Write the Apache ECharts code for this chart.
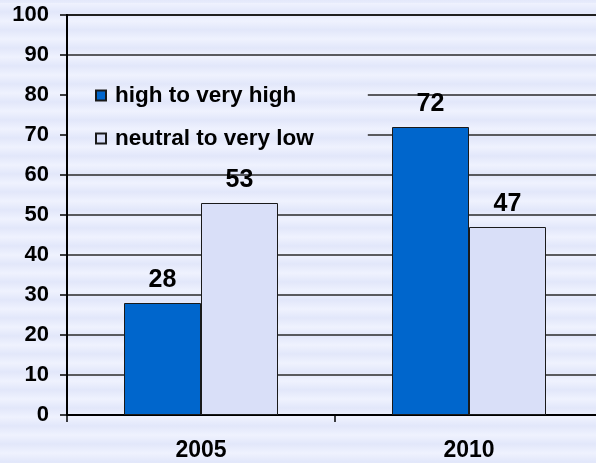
<!DOCTYPE html>
<html>
<head>
<meta charset="utf-8">
<script src="https://cdn.jsdelivr.net/npm/echarts@6/dist/echarts.min.js"></script>
<style>
  html, body { margin: 0; padding: 0; }
  #chart {
    width: 596px;
    height: 463px;
    background: repeating-linear-gradient(to bottom, #eff2fe 0px, #e2e7fa 9px, #eff2fe 18px);
    background-position: 0 3px;
  }
</style>
</head>
<body>
<div id="chart"></div>
<script>
// data
const years = ['2005', '2010']
const highValues = [28, 72]
const lowValues = [53, 47]
const seriesNames = ['high to very high', 'neutral to very low']

// stripe pattern so the legend box blends into the striped page
function stripeCanvas () {
  const c = document.createElement('canvas')
  c.width = 4
  c.height = 18
  const ctx = c.getContext('2d')
  const g = ctx.createLinearGradient(0, 0, 0, 18)
  g.addColorStop(0, '#eff2fe')
  g.addColorStop(0.5, '#e2e7fa')
  g.addColorStop(1, '#eff2fe')
  ctx.fillStyle = g
  ctx.fillRect(0, 0, 4, 18)
  return c
}

const legendTop = 74
const legendPad = [10, 54, 10, 27]
// pattern origin sits at the legend content corner, shift it back to page phase
const contentTop = legendTop + legendPad[0]
const phase = ((3 - contentTop) % 18 + 18) % 18

const chart = echarts.init(document.getElementById('chart'))
const font = 'Arial, "Liberation Sans", sans-serif'

const option = {
  backgroundColor: 'transparent',
  animation: false,
  grid: {
    left: 67,
    width: 536,
    top: 15,
    bottom: 48,
    outerBoundsMode: 'none',
    show: true,
    borderColor: '#000',
    borderWidth: 2,
    backgroundColor: 'transparent'
  },
  legend: {
    orient: 'vertical',
    left: 68,
    top: legendTop,
    padding: legendPad,
    itemWidth: 10,
    itemHeight: 10,
    itemGap: 20,
    icon: 'rect',
    backgroundColor: { image: stripeCanvas(), repeat: 'repeat', x: 0, y: phase },
    textStyle: {
      fontFamily: font,
      fontWeight: 'bold',
      fontSize: 22.5,
      color: '#000',
      padding: [0, 0, 0, 4]
    },
    data: seriesNames
  },
  xAxis: {
    type: 'category',
    data: years,
    axisLine: { lineStyle: { color: '#000', width: 2 } },
    axisTick: { show: true, length: 7, lineStyle: { color: '#000', width: 1.5 } },
    axisLabel: {
      margin: 24,
      fontFamily: font,
      fontWeight: 'bold',
      fontSize: 23,
      color: '#000'
    },
    splitLine: { show: false }
  },
  yAxis: {
    type: 'value',
    min: 0,
    max: 100,
    interval: 10,
    axisLine: { show: true, lineStyle: { color: '#000', width: 2 } },
    axisTick: { show: true, length: 7, lineStyle: { color: '#000', width: 1.5 } },
    axisLabel: {
      margin: 18,
      fontFamily: font,
      fontWeight: 'bold',
      fontSize: 22,
      color: '#000'
    },
    splitLine: { lineStyle: { color: '#2a2a2a', width: 1.5 } }
  },
  series: [
    {
      name: seriesNames[0],
      type: 'bar',
      data: highValues,
      barWidth: 77,
      barGap: '0%',
      itemStyle: { color: '#0066cc', borderColor: '#1a1a1a', borderWidth: 1 },
      label: {
        show: true,
        position: 'top',
        distance: 10,
        fontFamily: font,
        fontWeight: 'bold',
        fontSize: 25,
        color: '#000'
      }
    },
    {
      name: seriesNames[1],
      type: 'bar',
      data: lowValues,
      barWidth: 77,
      barGap: '0%',
      itemStyle: { color: '#d9dff8', borderColor: '#1a1a1a', borderWidth: 1 },
      label: {
        show: true,
        position: 'top',
        distance: 10,
        fontFamily: font,
        fontWeight: 'bold',
        fontSize: 25,
        color: '#000'
      }
    }
  ]
}

chart.setOption(option)
</script>
</body>
</html>
